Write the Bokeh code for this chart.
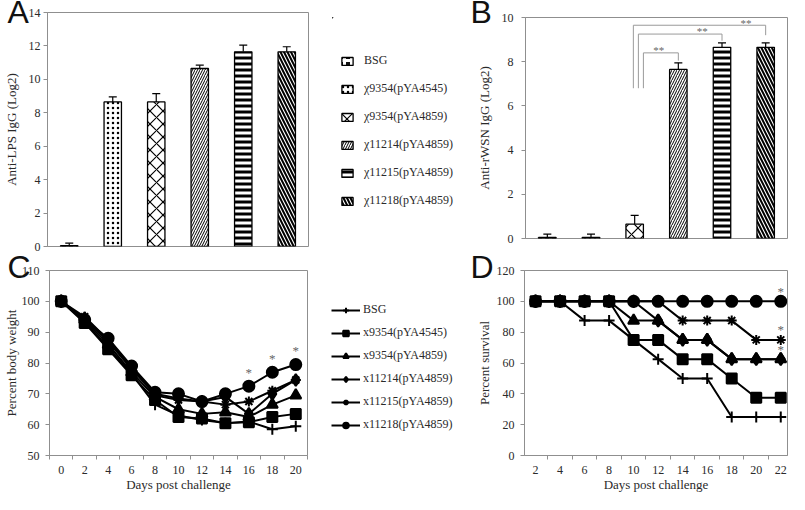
from bokeh.plotting import figure
from bokeh.models import (Range1d, FixedTicker, Whisker, TeeHead, ColumnDataSource,
                          Legend, LegendItem)
from bokeh.layouts import row, column
from bokeh.embed import file_html
from bokeh.resources import INLINE
from bokeh.core.properties import value

# ---------------- data ----------------
groups_ab = ["BSG", "χ9354(pYA4545)", "χ9354(pYA4859)", "χ11214(pYA4859)",
             "χ11215(pYA4859)", "χ11218(pYA4859)"]
lps_igg = [0.05, 8.65, 8.65, 10.65, 11.65, 11.65]
lps_sem = [0.15, 0.30, 0.50, 0.20, 0.40, 0.30]
wsn_igg = [0.05, 0.05, 0.65, 7.65, 8.65, 8.65]
wsn_sem = [0.15, 0.15, 0.40, 0.30, 0.20, 0.20]
lps_ticks = [0, 2, 4, 6, 8, 10, 12, 14]
wsn_ticks = [0, 2, 4, 6, 8, 10]

# significance brackets in panel B (reference group index 2 vs targets)
bracket_ref = 2
bracket_targets = [5, 4, 3]
bracket_tops = [9.65, 9.25, 8.4]
bracket_ends = [9.2, 8.95, 8.05]
bracket_base = 6.8
bracket_text = "**"

groups_cd = ["BSG", "x9354(pYA4545)", "x9354(pYA4859)", "x11214(pYA4859)",
             "x11215(pYA4859)", "x11218(pYA4859)"]
days_c = [0, 2, 4, 6, 8, 10, 12, 14, 16, 18, 20]
weight_bsg = [100, 93.5, 85.0, 76.5, 66.5, 63.0, 61.5, 60.5, 61.0, 58.5, 59.5]
weight_4545 = [100, 93.0, 84.5, 76.0, 68.0, 62.5, 62.0, 60.5, 60.8, 62.5, 63.5]
weight_4859 = [100, 94.0, 86.0, 77.0, 69.0, 65.0, 63.5, 64.0, 62.5, 66.5, 69.5]
weight_11214 = [100, 94.5, 87.0, 78.0, 70.0, 68.5, 67.5, 69.0, 63.5, 70.0, 74.5]
weight_11215 = [100, 95.0, 87.5, 78.5, 69.5, 68.0, 67.5, 66.5, 67.5, 71.0, 74.5]
weight_11218 = [100, 94.0, 88.0, 79.0, 70.5, 70.0, 67.5, 70.0, 72.5, 77.0, 79.5]
weight_ticks = [50, 60, 70, 80, 90, 100, 110]
sig_days_c = [16, 18, 20]

days_d = [2, 4, 6, 8, 10, 12, 14, 16, 18, 20, 22]
surv_bsg = [100, 100, 87.5, 87.5, 75, 62.5, 50, 50, 25, 25, 25]
surv_4545 = [100, 100, 100, 100, 75, 75, 62.5, 62.5, 50, 37.5, 37.5]
surv_4859 = [100, 100, 100, 100, 87.5, 87.5, 75, 75, 62.5, 62.5, 62.5]
surv_11214 = [100, 100, 100, 100, 100, 87.5, 75, 75, 62.5, 62.5, 62.5]
surv_11215 = [100, 100, 100, 100, 100, 100, 87.5, 87.5, 87.5, 75, 75]
surv_11218 = [100, 100, 100, 100, 100, 100, 100, 100, 100, 100, 100]
surv_ticks = [0, 20, 40, 60, 80, 100, 120]
sig_groups_d = [5, 4, 3]

# ---------------- styles ----------------
GRAY = "#8f8f8f"
TXT = "#2a2a2a"
SERIF = "Liberation Serif"
SANS = "Liberation Sans"
HATCH = ["+", ".", "x", "/", "-", "\\"]
HSCALE = [7, 5, 13, 5, 6, 7]
HWEIGHT = [3, 0.9, 1.2, 1, 3, 2]
BFILL = ["#111111", "white", "white", "white", "white", "white"]
BHATCH = ["white", "black", "black", "black", "black", "black"]
MARKERS = ["cross", "square", "triangle", "diamond", "asterisk", "circle"]
MSIZES = [11, 10, 11, 12, 10, 11]


def make_fig(w, h, xr, yr, ml, mr, mt, mb):
    p = figure(width=w, height=h, x_range=xr, y_range=yr, output_backend="svg",
               toolbar_location=None, min_border_left=ml, min_border_right=mr,
               min_border_top=mt, min_border_bottom=mb)
    p.grid.visible = False
    p.outline_line_color = GRAY
    p.outline_line_width = 1
    for ax in p.axis:
        ax.axis_line_color = GRAY
        ax.major_tick_line_color = GRAY
        ax.minor_tick_line_color = GRAY
        ax.major_tick_in = 0
        ax.major_tick_out = 4
        ax.minor_tick_in = 0
        ax.minor_tick_out = 4
        ax.major_label_text_font = SERIF
        ax.major_label_text_font_size = "12px"
        ax.major_label_text_color = TXT
        ax.axis_label_text_font = SERIF
        ax.axis_label_text_font_size = "13px"
        ax.axis_label_text_font_style = "normal"
        ax.axis_label_text_color = TXT
    return p


def legend_fig(w, h, mt, mb):
    # a bare figure that only carries a legend
    f = figure(width=w, height=h, x_range=Range1d(100, 101), y_range=Range1d(-3, -2),
               output_backend="svg", toolbar_location=None, x_axis_location=None,
               y_axis_location=None, min_border_left=0, min_border_right=0,
               min_border_top=mt, min_border_bottom=mb)
    f.grid.visible = False
    f.outline_line_color = None
    return f


def letter(p, txt, offset, standoff):
    t = p.title
    t.text = txt
    t.text_font = SANS
    t.text_font_size = "32px"
    t.text_font_style = "normal"
    t.text_color = "#111111"
    t.align = "left"
    t.vertical_align = "middle"
    t.offset = offset
    t.standoff = standoff


def make_legend(items, loc, gw, gh, standoff, spacing):
    lg = Legend(items=items, location=loc)
    lg.border_line_color = None
    lg.background_fill_alpha = 0
    lg.padding = 0
    lg.margin = 0
    lg.spacing = spacing
    lg.glyph_width = gw
    lg.glyph_height = gh
    lg.label_height = 14
    lg.label_standoff = standoff
    lg.label_text_font = SERIF
    lg.label_text_font_size = "12px"
    lg.label_text_color = TXT
    return lg


def bar_source(vals, errs):
    xs = [i + 0.5 for i in range(len(groups_ab))]
    return ColumnDataSource(dict(x=xs, top=vals, upper=[v + e for v, e in zip(vals, errs)],
                                 group=groups_ab, hatch=HATCH, hscale=HSCALE,
                                 hweight=HWEIGHT, fill=BFILL, hcol=BHATCH))


def draw_bars(p, src):
    return p.vbar(x="x", top="top", bottom=0, width=0.4, source=src, fill_color="fill",
                  line_color="black", line_width=1.3, hatch_pattern="hatch",
                  hatch_scale="hscale", hatch_weight="hweight", hatch_color="hcol")


def bar_panel(p, src):
    draw_bars(p, src)
    p.add_layout(Whisker(base="x", lower="top", upper="upper", source=src,
                         line_color="black", line_width=1.2, lower_head=None,
                         upper_head=TeeHead(size=8, line_color="black", line_width=1.2)))
    p.xaxis.visible = False


# ---------------- panel A ----------------
src_a = bar_source(lps_igg, lps_sem)
pa = make_fig(332, 254, Range1d(0, 6), Range1d(0, 14), 41, 24, 12, 8)
pa.yaxis.ticker = FixedTicker(ticks=lps_ticks, minor_ticks=[])
pa.yaxis.axis_label = "Anti-LPS IgG (Log2)"
pa.yaxis.major_label_standoff = 3
pa.yaxis.axis_label_standoff = 7
bar_panel(pa, src_a)
letter(pa, "A", -40, -36)

# legend for panels A and B
la = legend_fig(130, 254, 17, 16)
rla = draw_bars(la, src_a)
la.add_layout(make_legend([LegendItem(label=g, renderers=[rla], index=i)
                           for i, g in enumerate(groups_ab)], (8, 30), 14, 10, 10, 13))

# ---------------- panel B ----------------
src_b = bar_source(wsn_igg, wsn_sem)
pb = make_fig(327, 254, Range1d(0, 6), Range1d(0, 10), 63, 2, 17, 16)
pb.yaxis.ticker = FixedTicker(ticks=wsn_ticks, minor_ticks=[])
pb.yaxis.axis_label = "Anti-rWSN IgG (Log2)"
pb.yaxis.major_label_standoff = 8
pb.yaxis.axis_label_standoff = 7
bar_panel(pb, src_b)
bx, by, tx, ty = [], [], [], []
for k, (t, top, end) in enumerate(zip(bracket_targets, bracket_tops, bracket_ends)):
    x0 = bracket_ref + 0.47 + 0.115 * k
    x1 = t + 0.5
    bx.append([x0, x0, x1, x1])
    by.append([bracket_base, top, top, end])
    tx.append(x1 - 0.45)
    ty.append(top + 0.12)
pb.multi_line(bx, by, line_color="#9a9a9a", line_width=1)
pb.text(tx, ty, text=[bracket_text] * len(tx), text_font=value(SERIF), text_font_size="11px",
        text_color="#666666", text_align="center", text_baseline="middle")
letter(pb, "B", -55, -27)

# ---------------- panel C ----------------
pc = make_fig(327, 240, Range1d(-1, 21), Range1d(50, 110), 43, 20, 16, 32)
pc.yaxis.ticker = FixedTicker(ticks=weight_ticks, minor_ticks=[])
pc.xaxis.ticker = FixedTicker(ticks=days_c, minor_ticks=[d + 1 for d in [-2] + days_c])
pc.xaxis.major_tick_out = 0
pc.xaxis.major_tick_line_color = None
pc.xaxis.major_label_standoff = 6
pc.xaxis.axis_label_standoff = 0
pc.yaxis.major_label_standoff = 6
pc.yaxis.axis_label_standoff = 0
pc.yaxis.axis_label = "Percent body weight"
pc.xaxis.axis_label = "Days post challenge"
weights = [weight_bsg, weight_4545, weight_4859, weight_11214, weight_11215, weight_11218]
lc = legend_fig(135, 240, 16, 32)
items_c = []
for name, vals, mk, sz in zip(groups_cd, weights, MARKERS, MSIZES):
    pc.line(days_c, vals, line_color="black", line_width=2)
    pc.scatter(days_c, vals, marker=mk, size=sz, fill_color="black", line_color="black",
               line_width=2)
    rl = lc.line(days_c, vals, line_color="black", line_width=2)
    rs = lc.scatter(days_c, vals, marker=mk, size=sz, fill_color="black", line_color="black",
                    line_width=2)
    items_c.append(LegendItem(label=name, renderers=[rl, rs]))
lc.add_layout(make_legend(items_c, (4, 30), 29, 14, 3, 8))
sig_c_y = [weight_11218[days_c.index(d)] + 4.5 for d in sig_days_c]
pc.text(sig_days_c, sig_c_y, text=["*"] * len(sig_days_c), text_font=value(SERIF),
        text_font_size="13px", text_color="#666666", text_align="center", text_baseline="middle")
letter(pc, "C", -42, -30)

# ---------------- panel D ----------------
pd_ = make_fig(327, 240, Range1d(1.1, 22.55), Range1d(0, 120), 62, 2, 16, 32)
pd_.yaxis.ticker = FixedTicker(ticks=surv_ticks, minor_ticks=[])
pd_.xaxis.ticker = FixedTicker(ticks=days_d, minor_ticks=[d + 1 for d in [0] + days_d])
pd_.xaxis.major_tick_out = 0
pd_.xaxis.major_tick_line_color = None
pd_.xaxis.major_label_standoff = 6
pd_.xaxis.axis_label_standoff = 0
pd_.yaxis.major_label_standoff = 6
pd_.yaxis.axis_label_standoff = 2
pd_.yaxis.axis_label = "Percent survival"
pd_.xaxis.axis_label = "Days post challenge"
survs = [surv_bsg, surv_4545, surv_4859, surv_11214, surv_11215, surv_11218]
for vals, mk, sz in zip(survs, MARKERS, MSIZES):
    pd_.line(days_d, vals, line_color="black", line_width=2)
    pd_.scatter(days_d, vals, marker=mk, size=sz, fill_color="black", line_color="black",
                line_width=2)
sig_d_y = [survs[g][-1] + 6.5 for g in sig_groups_d]
pd_.text([days_d[-1]] * len(sig_d_y), sig_d_y, text=["*"] * len(sig_d_y), text_font=value(SERIF),
         text_font_size="13px", text_color="#666666", text_align="center", text_baseline="middle")
letter(pd_, "D", -54, -30)

# wrap each plot on its own so that the row does not align their frames
layout = column(row(column(pa), column(la), column(pb)),
                row(column(pc), column(lc), column(pd_)))
open("out.html", "w").write(file_html(layout, INLINE))
